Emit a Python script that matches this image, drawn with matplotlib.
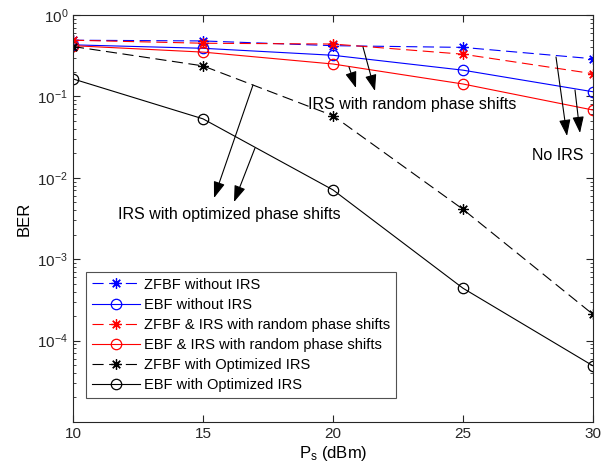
import numpy as np
import matplotlib
matplotlib.use('Agg')
import matplotlib.pyplot as plt
from matplotlib.ticker import LogLocator, NullFormatter

plt.rcParams['font.family'] = ['Liberation Sans', 'DejaVu Sans']
plt.rcParams['mathtext.fontset'] = 'custom'
plt.rcParams['mathtext.rm'] = 'Liberation Sans'
plt.rcParams['mathtext.it'] = 'Liberation Sans'

ps = [10, 15, 20, 25, 30]
zfbf_no_irs = [0.49, 0.48, 0.42, 0.40, 0.29]
ebf_no_irs = [0.43, 0.39, 0.32, 0.21, 0.114]
zfbf_rand = [0.49, 0.45, 0.44, 0.33, 0.19]
ebf_rand = [0.42, 0.35, 0.25, 0.142, 0.068]
zfbf_opt = [0.41, 0.237, 0.058, 0.0041, 2.1e-4]
ebf_opt = [0.164, 0.053, 0.0071, 4.4e-4, 4.9e-5]

W, H = 602, 474
fig = plt.figure(figsize=(W / 100, H / 100), dpi=100)
ax = fig.add_axes([73 / W, 1 - 422 / H, 520 / W, 407 / H])

ast = (8, 2, 0)
dash = (0, (10, 5))
mk = dict(ms=7.5, mew=0.9)
ax.semilogy(ps, zfbf_no_irs, color='blue', ls=dash, lw=0.8, marker=ast, label='ZFBF without IRS', **mk)
ax.semilogy(ps, ebf_no_irs, color='blue', ls='-', lw=0.8, marker='o', mfc='none', label='EBF without IRS', **mk)
ax.semilogy(ps, zfbf_rand, color='red', ls=dash, lw=0.8, marker=ast, label='ZFBF & IRS with random phase shifts', **mk)
ax.semilogy(ps, ebf_rand, color='red', ls='-', lw=0.8, marker='o', mfc='none', label='EBF & IRS with random phase shifts', **mk)
ax.semilogy(ps, zfbf_opt, color='black', ls=dash, lw=0.8, marker=ast, label='ZFBF with Optimized IRS', **mk)
ax.semilogy(ps, ebf_opt, color='black', ls='-', lw=0.8, marker='o', mfc='none', label='EBF with Optimized IRS', **mk)

ax.set_xlim(10, 30)
ax.set_ylim(1e-5, 1)
ax.set_xticks([10, 15, 20, 25, 30])
ax.set_yticks([1e-4, 1e-3, 1e-2, 1e-1, 1e0])
ax.yaxis.set_minor_locator(LogLocator(base=10, subs=np.arange(2, 10), numticks=20))
ax.yaxis.set_minor_formatter(NullFormatter())
ax.tick_params(which='both', direction='in', top=True, right=True, labelsize=11, colors='#262626')
ax.tick_params(which='major', length=5)
ax.tick_params(which='minor', length=2.5)
for s in ax.spines.values():
    s.set_linewidth(0.8)
    s.set_color('#262626')

ax.set_xlabel(r'P$_\mathrm{s}$ (dBm)', fontsize=12, labelpad=2)
ax.set_ylabel('BER', fontsize=12, labelpad=4)

leg = ax.legend(loc='lower left', bbox_to_anchor=(13 / 520, 24 / 407), fontsize=10.5, frameon=True,
                fancybox=False, edgecolor='#262626', handlelength=3.3, borderpad=0.4,
                labelspacing=0.42, handletextpad=0.3, borderaxespad=0)
leg.get_frame().set_linewidth(0.8)

def fp(x, y):
    return (x / W, 1 - y / H)

arrow = dict(arrowstyle='-|>,head_length=1.0,head_width=0.35', color='black', lw=0.8, shrinkA=0, shrinkB=0)
arrows = [((253, 85), (214, 198)), ((255, 148), (234, 202)),
          ((349, 67), (356, 88)), ((363, 47), (375, 91)),
          ((556, 57), (567, 136)), ((575, 90), (580, 133))]
for (x0, y0), (x1, y1) in arrows:
    ax.annotate('', xy=fp(x1, y1), xytext=fp(x0, y0), xycoords='figure fraction',
                textcoords='figure fraction', arrowprops=arrow)

fig.text(*fp(229, 214), 'IRS with optimized phase shifts', fontsize=11.5, ha='center', va='center')
fig.text(*fp(412, 104), 'IRS with random phase shifts', fontsize=11.5, ha='center', va='center')
fig.text(*fp(558, 155), 'No IRS', fontsize=11.5, ha='center', va='center')

fig.savefig('out.png', dpi=100)
